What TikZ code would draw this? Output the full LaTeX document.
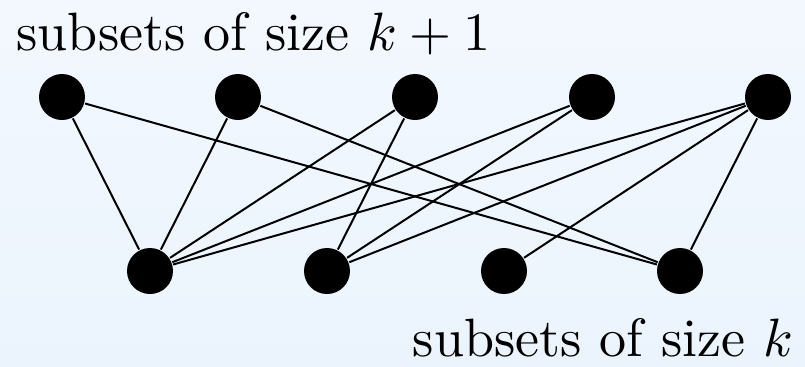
\documentclass[tikz,border=0pt]{standalone}
\usepackage{amsmath,amssymb}
\usepackage{tikz}
\usetikzlibrary{positioning}
\definecolor{paletop}{RGB}{243,248,254}
\definecolor{palebot}{RGB}{235,244,253}

\begin{document}
\begin{tikzpicture}[x=0.5pt,y=0.5pt,line width=1pt,
    vertex/.style={circle,fill=black,inner sep=0pt,minimum size=23pt},
    caption/.style={inner sep=0pt,scale=2.7}]
  \shade[top color=paletop,bottom color=palebot] (0,0) rectangle (805,366);
  \foreach \i/\x in {1/62,2/238,3/415,4/592,5/768}
    \node[vertex] (t\i) at (\x,269) {};
  \foreach \i/\x in {1/150,2/327,3/504,4/680}
    \node[vertex] (b\i) at (\x,95) {};
  \foreach \s/\t in {1/1,1/4,2/1,2/4,3/1,3/2,4/1,4/2,5/1,5/2,5/3,5/4}
    \draw (t\s) -- (b\t);
  \node[caption,anchor=base west] (toplabel) at (14,316) {subsets of size $k+1$};
  \node[caption,anchor=base east] (botlabel) at (796,10) {subsets of size $k$};
\end{tikzpicture}
\end{document}
